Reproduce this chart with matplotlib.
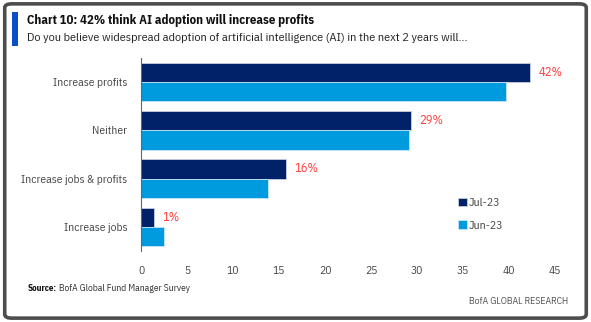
import matplotlib.pyplot as plt
import numpy as np
from matplotlib.patches import FancyBboxPatch, Rectangle

plt.rcParams['font.family'] = ['IBM Plex Sans Condensed', 'DejaVu Sans']

categories = ['Increase profits', 'Neither', 'Increase jobs & profits', 'Increase jobs']
jul_23 = [42.3, 29.3, 15.8, 1.4]
jun_23 = [39.7, 29.1, 13.8, 2.5]
jul_labels = ['42%', '29%', '16%', '1%']
xticks = [0, 5, 10, 15, 20, 25, 30, 35, 40, 45]

navy = '#012169'
blue = '#009ADE'
red = '#FF3B3B'

fig = plt.figure(figsize=(5.91, 3.22), dpi=100)

# outer frame + blue accent
frame = FancyBboxPatch((0.008, 0.012), 0.984, 0.976, boxstyle='round,pad=0,rounding_size=0.012',
                       transform=fig.transFigure, fill=False, edgecolor='#4d4d4d', linewidth=2.6)
fig.patches.append(frame)
fig.patches.append(Rectangle((0.020, 0.857), 0.010, 0.107, transform=fig.transFigure,
                             facecolor='#0A4FC8', edgecolor='none'))

fig.text(0.046, 0.935, 'Chart 10: 42% think AI adoption will increase profits',
         fontsize=9.2, fontweight='bold', color='#111111', va='center')
fig.text(0.046, 0.882, 'Do you believe widespread adoption of artificial intelligence (AI) in the next 2 years will...',
         fontsize=8.8, color='#222222', va='center')

ax = fig.add_axes([0.2386, 0.2205, 0.7004, 0.5995])
y = np.arange(len(categories))
h = 0.4
ax.barh(y - h / 2, jul_23, height=h, color=navy, edgecolor='#c8cde0', linewidth=0.6, label='Jul-23')
ax.barh(y + h / 2, jun_23, height=h, color=blue, edgecolor='#c8e4f4', linewidth=0.6, label='Jun-23')

for yi, v, lab in zip(y, jul_23, jul_labels):
    ax.text(v + 0.9, yi - h / 2, lab, color=red, fontsize=9, va='center', ha='left')

ax.set_ylim(3.5, -0.5)
ax.set_xlim(0, 45)
ax.set_xticks(xticks)
ax.set_yticks(y)
ax.set_yticklabels(categories)
ax.tick_params(axis='both', length=0, colors='#444444', labelsize=8.3)
ax.tick_params(axis='x', pad=11)
ax.tick_params(axis='y', pad=10)
for s in ['top', 'right', 'bottom']:
    ax.spines[s].set_visible(False)
ax.spines['left'].set_color('#666666')
ax.spines['left'].set_linewidth(0.8)

ax.legend(loc='upper left', bbox_to_anchor=(0.755, 0.30), frameon=False, fontsize=8.5,
          handlelength=0.7, handleheight=0.7, handletextpad=0.2, labelspacing=1.05,
          labelcolor='#444444', borderaxespad=0)

fig.text(0.047, 0.103, 'Source:', fontsize=6.5, fontweight='bold', color='#111111', va='center')
fig.text(0.100, 0.103, 'BofA Global Fund Manager Survey', fontsize=6.8, color='#333333', va='center')
fig.text(0.962, 0.065, 'BofA GLOBAL RESEARCH', fontsize=7, color='#555555', va='center', ha='right')

fig.savefig('out.png', dpi=100)
